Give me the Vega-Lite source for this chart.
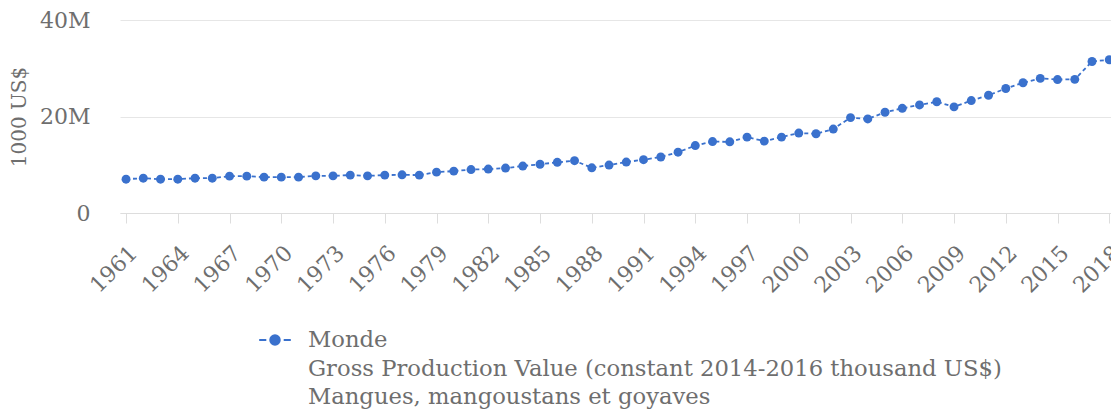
{
  "$schema": "https://vega.github.io/schema/vega-lite/v6.json",
  "width": 991,
  "height": 193,
  "autosize": "none",
  "padding": {"left": 120, "top": 20, "right": 0, "bottom": 197},
  "background": "white",
  "config": {
    "view": {"stroke": null},
    "font": "DejaVu Serif",
    "axis": {"labelFont": "DejaVu Serif", "titleFont": "DejaVu Serif", "labelColor": "#6e6e6e", "titleColor": "#6e6e6e", "titleFontWeight": "normal"},
    "legend": {"labelFont": "DejaVu Serif", "labelColor": "#6e6e6e"},
    "style": {"guide-label": {"lineHeight": 28.5}}
  },
  "data": {
    "values": [
      {"year": 1961, "value": 7010000, "s": "Monde|Gross Production Value (constant 2014-2016 thousand US$)|Mangues, mangoustans et goyaves"},
      {"year": 1962, "value": 7220000, "s": "Monde|Gross Production Value (constant 2014-2016 thousand US$)|Mangues, mangoustans et goyaves"},
      {"year": 1963, "value": 7010000, "s": "Monde|Gross Production Value (constant 2014-2016 thousand US$)|Mangues, mangoustans et goyaves"},
      {"year": 1964, "value": 7010000, "s": "Monde|Gross Production Value (constant 2014-2016 thousand US$)|Mangues, mangoustans et goyaves"},
      {"year": 1965, "value": 7220000, "s": "Monde|Gross Production Value (constant 2014-2016 thousand US$)|Mangues, mangoustans et goyaves"},
      {"year": 1966, "value": 7220000, "s": "Monde|Gross Production Value (constant 2014-2016 thousand US$)|Mangues, mangoustans et goyaves"},
      {"year": 1967, "value": 7640000, "s": "Monde|Gross Production Value (constant 2014-2016 thousand US$)|Mangues, mangoustans et goyaves"},
      {"year": 1968, "value": 7640000, "s": "Monde|Gross Production Value (constant 2014-2016 thousand US$)|Mangues, mangoustans et goyaves"},
      {"year": 1969, "value": 7430000, "s": "Monde|Gross Production Value (constant 2014-2016 thousand US$)|Mangues, mangoustans et goyaves"},
      {"year": 1970, "value": 7430000, "s": "Monde|Gross Production Value (constant 2014-2016 thousand US$)|Mangues, mangoustans et goyaves"},
      {"year": 1971, "value": 7430000, "s": "Monde|Gross Production Value (constant 2014-2016 thousand US$)|Mangues, mangoustans et goyaves"},
      {"year": 1972, "value": 7700000, "s": "Monde|Gross Production Value (constant 2014-2016 thousand US$)|Mangues, mangoustans et goyaves"},
      {"year": 1973, "value": 7700000, "s": "Monde|Gross Production Value (constant 2014-2016 thousand US$)|Mangues, mangoustans et goyaves"},
      {"year": 1974, "value": 7850000, "s": "Monde|Gross Production Value (constant 2014-2016 thousand US$)|Mangues, mangoustans et goyaves"},
      {"year": 1975, "value": 7700000, "s": "Monde|Gross Production Value (constant 2014-2016 thousand US$)|Mangues, mangoustans et goyaves"},
      {"year": 1976, "value": 7850000, "s": "Monde|Gross Production Value (constant 2014-2016 thousand US$)|Mangues, mangoustans et goyaves"},
      {"year": 1977, "value": 7910000, "s": "Monde|Gross Production Value (constant 2014-2016 thousand US$)|Mangues, mangoustans et goyaves"},
      {"year": 1978, "value": 7850000, "s": "Monde|Gross Production Value (constant 2014-2016 thousand US$)|Mangues, mangoustans et goyaves"},
      {"year": 1979, "value": 8470000, "s": "Monde|Gross Production Value (constant 2014-2016 thousand US$)|Mangues, mangoustans et goyaves"},
      {"year": 1980, "value": 8680000, "s": "Monde|Gross Production Value (constant 2014-2016 thousand US$)|Mangues, mangoustans et goyaves"},
      {"year": 1981, "value": 9000000, "s": "Monde|Gross Production Value (constant 2014-2016 thousand US$)|Mangues, mangoustans et goyaves"},
      {"year": 1982, "value": 9100000, "s": "Monde|Gross Production Value (constant 2014-2016 thousand US$)|Mangues, mangoustans et goyaves"},
      {"year": 1983, "value": 9310000, "s": "Monde|Gross Production Value (constant 2014-2016 thousand US$)|Mangues, mangoustans et goyaves"},
      {"year": 1984, "value": 9730000, "s": "Monde|Gross Production Value (constant 2014-2016 thousand US$)|Mangues, mangoustans et goyaves"},
      {"year": 1985, "value": 10100000, "s": "Monde|Gross Production Value (constant 2014-2016 thousand US$)|Mangues, mangoustans et goyaves"},
      {"year": 1986, "value": 10500000, "s": "Monde|Gross Production Value (constant 2014-2016 thousand US$)|Mangues, mangoustans et goyaves"},
      {"year": 1987, "value": 10840000, "s": "Monde|Gross Production Value (constant 2014-2016 thousand US$)|Mangues, mangoustans et goyaves"},
      {"year": 1988, "value": 9370000, "s": "Monde|Gross Production Value (constant 2014-2016 thousand US$)|Mangues, mangoustans et goyaves"},
      {"year": 1989, "value": 9940000, "s": "Monde|Gross Production Value (constant 2014-2016 thousand US$)|Mangues, mangoustans et goyaves"},
      {"year": 1990, "value": 10560000, "s": "Monde|Gross Production Value (constant 2014-2016 thousand US$)|Mangues, mangoustans et goyaves"},
      {"year": 1991, "value": 11050000, "s": "Monde|Gross Production Value (constant 2014-2016 thousand US$)|Mangues, mangoustans et goyaves"},
      {"year": 1992, "value": 11600000, "s": "Monde|Gross Production Value (constant 2014-2016 thousand US$)|Mangues, mangoustans et goyaves"},
      {"year": 1993, "value": 12600000, "s": "Monde|Gross Production Value (constant 2014-2016 thousand US$)|Mangues, mangoustans et goyaves"},
      {"year": 1994, "value": 13970000, "s": "Monde|Gross Production Value (constant 2014-2016 thousand US$)|Mangues, mangoustans et goyaves"},
      {"year": 1995, "value": 14800000, "s": "Monde|Gross Production Value (constant 2014-2016 thousand US$)|Mangues, mangoustans et goyaves"},
      {"year": 1996, "value": 14750000, "s": "Monde|Gross Production Value (constant 2014-2016 thousand US$)|Mangues, mangoustans et goyaves"},
      {"year": 1997, "value": 15730000, "s": "Monde|Gross Production Value (constant 2014-2016 thousand US$)|Mangues, mangoustans et goyaves"},
      {"year": 1998, "value": 14900000, "s": "Monde|Gross Production Value (constant 2014-2016 thousand US$)|Mangues, mangoustans et goyaves"},
      {"year": 1999, "value": 15730000, "s": "Monde|Gross Production Value (constant 2014-2016 thousand US$)|Mangues, mangoustans et goyaves"},
      {"year": 2000, "value": 16570000, "s": "Monde|Gross Production Value (constant 2014-2016 thousand US$)|Mangues, mangoustans et goyaves"},
      {"year": 2001, "value": 16420000, "s": "Monde|Gross Production Value (constant 2014-2016 thousand US$)|Mangues, mangoustans et goyaves"},
      {"year": 2002, "value": 17400000, "s": "Monde|Gross Production Value (constant 2014-2016 thousand US$)|Mangues, mangoustans et goyaves"},
      {"year": 2003, "value": 19770000, "s": "Monde|Gross Production Value (constant 2014-2016 thousand US$)|Mangues, mangoustans et goyaves"},
      {"year": 2004, "value": 19500000, "s": "Monde|Gross Production Value (constant 2014-2016 thousand US$)|Mangues, mangoustans et goyaves"},
      {"year": 2005, "value": 20880000, "s": "Monde|Gross Production Value (constant 2014-2016 thousand US$)|Mangues, mangoustans et goyaves"},
      {"year": 2006, "value": 21700000, "s": "Monde|Gross Production Value (constant 2014-2016 thousand US$)|Mangues, mangoustans et goyaves"},
      {"year": 2007, "value": 22400000, "s": "Monde|Gross Production Value (constant 2014-2016 thousand US$)|Mangues, mangoustans et goyaves"},
      {"year": 2008, "value": 23050000, "s": "Monde|Gross Production Value (constant 2014-2016 thousand US$)|Mangues, mangoustans et goyaves"},
      {"year": 2009, "value": 22000000, "s": "Monde|Gross Production Value (constant 2014-2016 thousand US$)|Mangues, mangoustans et goyaves"},
      {"year": 2010, "value": 23300000, "s": "Monde|Gross Production Value (constant 2014-2016 thousand US$)|Mangues, mangoustans et goyaves"},
      {"year": 2011, "value": 24400000, "s": "Monde|Gross Production Value (constant 2014-2016 thousand US$)|Mangues, mangoustans et goyaves"},
      {"year": 2012, "value": 25800000, "s": "Monde|Gross Production Value (constant 2014-2016 thousand US$)|Mangues, mangoustans et goyaves"},
      {"year": 2013, "value": 27000000, "s": "Monde|Gross Production Value (constant 2014-2016 thousand US$)|Mangues, mangoustans et goyaves"},
      {"year": 2014, "value": 27900000, "s": "Monde|Gross Production Value (constant 2014-2016 thousand US$)|Mangues, mangoustans et goyaves"},
      {"year": 2015, "value": 27660000, "s": "Monde|Gross Production Value (constant 2014-2016 thousand US$)|Mangues, mangoustans et goyaves"},
      {"year": 2016, "value": 27700000, "s": "Monde|Gross Production Value (constant 2014-2016 thousand US$)|Mangues, mangoustans et goyaves"},
      {"year": 2017, "value": 31400000, "s": "Monde|Gross Production Value (constant 2014-2016 thousand US$)|Mangues, mangoustans et goyaves"},
      {"year": 2018, "value": 31760000, "s": "Monde|Gross Production Value (constant 2014-2016 thousand US$)|Mangues, mangoustans et goyaves"}
    ]
  },
  "mark": {"type": "line", "strokeDash": [4, 3], "strokeWidth": 1.8, "point": {"filled": true, "size": 80, "opacity": 1}},
  "encoding": {
    "x": {
      "field": "year", "type": "quantitative",
      "scale": {"domain": [1960.65, 2018.1], "nice": false, "zero": false},
      "axis": {
        "title": null, "grid": false,
        "values": [1961,1964,1967,1970,1973,1976,1979,1982,1985,1988,1991,1994,1997,2000,2003,2006,2009,2012,2015,2018],
        "format": "d", "labelAngle": -45, "labelAlign": "right", "labelBaseline": "top",
        "labelFontSize": 22, "tickSize": 10, "tickColor": "#ddd", "domainColor": "#ddd",
        "labelPadding": 19, "labelOverlap": false, "labelBound": false, "labelFlush": false
      }
    },
    "y": {
      "field": "value", "type": "quantitative",
      "scale": {"domain": [0, 40000000], "nice": false},
      "axis": {
        "title": "1000 US$", "titleFontSize": 20, "titlePadding": 10,
        "values": [0, 20000000, 40000000],
        "labelExpr": "datum.value == 0 ? '0' : format(datum.value / 1000000, 'd') + 'M'",
        "labelFontSize": 22, "domain": false, "ticks": false, "labelPadding": 30,
        "gridColor": "#e6e6e6"
      }
    },
    "color": {
      "field": "s", "type": "nominal",
      "scale": {"range": ["#3a71cd"]},
      "legend": {
        "title": null, "orient": "none", "legendX": 138, "legendY": 303,
        "labelExpr": "split(datum.label, '|')", "labelFontSize": 22.7, "labelLimit": 900,
        "symbolType": "M-1,0H-0.55M0.55,0H1M-0.3,0A0.3,0.3,0,1,0,0.3,0A0.3,0.3,0,1,0,-0.3,0Z",
        "symbolStrokeWidth": 2, "symbolSize": 1000, "labelOffset": 16
      }
    }
  }
}
